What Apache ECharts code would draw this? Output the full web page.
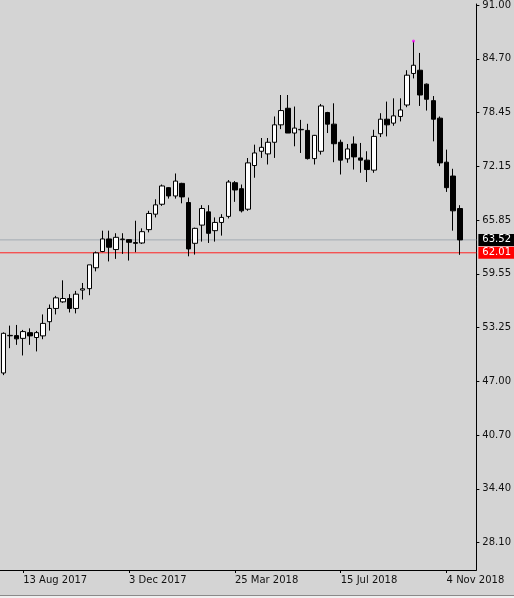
<!DOCTYPE html>
<html>
<head>
<meta charset="utf-8">
<script src="https://cdn.jsdelivr.net/npm/echarts@6/dist/echarts.min.js"></script>
<style>html,body{margin:0;padding:0;background:#d4d4d4;}#c{width:514px;height:598px;}</style>
</head>
<body>
<div id="c"></div>
<script>
// Weekly candles, first week 23 Jul 2017
const startDate = '2017-07-23';
const weekCount = 72; // 70 candles + 2 empty weeks at right
const opens  = [47.95,52.30,52.32,52.00,52.67,52.10,52.29,53.95,55.50,56.27,56.66,55.50,57.65,57.82,60.26,62.16,63.63,62.39,63.55,63.55,63.20,63.16,64.72,66.53,67.69,69.63,68.66,70.13,67.89,63.12,65.25,66.80,64.60,65.56,66.27,70.21,69.51,67.11,72.22,73.89,73.58,74.94,76.98,78.92,76.02,76.40,76.33,73.03,73.89,78.42,77.06,74.94,73.00,74.74,73.11,72.85,71.68,75.94,77.64,77.18,77.96,79.30,82.99,83.37,81.74,79.81,77.76,72.61,70.99,67.19];
const closes = [52.59,52.35,51.94,52.79,52.29,52.67,53.75,55.50,56.74,56.66,55.50,57.17,57.80,60.60,62.00,63.63,62.66,63.82,63.62,63.24,63.12,64.48,66.61,67.62,69.83,68.66,70.40,68.55,62.46,64.87,67.19,64.29,65.56,66.15,70.29,69.36,66.92,72.53,73.69,74.35,74.94,76.98,78.65,76.02,76.60,76.45,73.03,75.75,79.19,77.06,74.77,72.85,74.16,73.23,72.85,71.75,75.63,77.64,76.98,78.03,78.72,82.79,83.95,80.47,79.97,77.64,72.53,69.63,66.92,63.52];
const lows   = [47.70,50.85,51.24,50.00,51.24,50.47,51.90,52.91,54.80,56.16,55.03,54.92,56.54,57.05,59.84,62.08,61.00,61.30,61.88,61.10,62.08,63.04,64.40,66.15,67.50,68.35,68.35,67.80,61.60,61.80,63.32,63.16,63.32,64.02,66.03,67.97,66.73,66.92,70.79,73.11,72.34,73.11,76.48,76.02,74.47,73.69,72.92,72.34,73.50,76.02,72.61,71.17,72.54,71.75,71.37,70.29,71.37,75.55,75.63,76.87,77.38,79.04,82.41,79.19,78.65,75.05,72.15,69.13,64.60,61.77];
const highs  = [52.70,53.49,53.57,52.99,53.17,52.87,54.80,55.96,56.97,58.79,57.17,57.55,58.48,60.60,62.16,64.60,64.60,64.30,64.30,63.60,65.76,64.87,66.92,68.27,70.00,69.70,71.29,70.20,68.47,64.95,67.58,67.58,66.15,66.53,70.52,70.40,70.00,73.10,74.66,75.44,75.44,77.96,80.47,80.47,79.12,77.56,77.10,75.80,79.42,78.50,79.50,75.24,74.74,75.63,74.86,73.89,76.40,78.34,79.70,80.08,80.08,83.37,86.78,85.39,81.82,80.35,77.96,74.08,71.84,67.58];
const yTickLabels = [91.00,84.70,78.45,72.15,65.85,59.55,53.25,47.00,40.70,34.40,28.10];
const bidPrice = 63.52;
const redPrice = 62.01;
const xLabelStart = 3;   // 13 Aug 2017
const xLabelStep = 16;

const months = ['Jan','Feb','Mar','Apr','May','Jun','Jul','Aug','Sep','Oct','Nov','Dec'];
const categories = [];
{
  const d0 = new Date(startDate + 'T12:00:00Z');
  for (let i = 0; i < weekCount; i++) {
    const d = new Date(d0.getTime() + i * 7 * 86400000);
    categories.push(d.getUTCDate() + ' ' + months[d.getUTCMonth()] + ' ' + d.getUTCFullYear());
  }
}
const candleData = opens.map((o, i) => [o, closes[i], lows[i], highs[i]]);
let peakIdx = 0;
highs.forEach((h, i) => { if (h > highs[peakIdx]) peakIdx = i; });

const showX = (i) => i >= xLabelStart && (i - xLabelStart) % xLabelStep === 0;
const FONT = 'DejaVu Sans';

function priceLine(price, lineColor, boxColor) {
  return {
    type: 'line',
    xAxisIndex: 1,
    data: [[0, price], [1, price]],
    silent: true,
    symbol: 'none',
    showSymbol: false,
    color: lineColor,
    lineStyle: {color: lineColor, width: 1, type: 'solid'},
    emphasis: {disabled: true},
    endLabel: {show: true, distance: 2, formatter: price.toFixed(2),
      backgroundColor: boxColor, color: '#fff', padding: [1, 6, 1, 4], fontFamily: FONT, fontSize: 10},
    z: 1
  };
}

const chart = echarts.init(document.getElementById('c'), null, {renderer: 'canvas'});
chart.setOption({
  backgroundColor: '#d4d4d4',
  animation: false,
  grid: {left: -2, right: 36, top: 0, bottom: 28, containLabel: false},
  xAxis: [{
    type: 'category',
    data: categories,
    boundaryGap: true,
    axisLine: {onZero: false, lineStyle: {color: '#000', width: 1}},
    axisTick: {show: true, alignWithLabel: true, length: 3, interval: (i) => showX(i), lineStyle: {color: '#000'}},
    axisLabel: {interval: (i) => showX(i), align: 'left', margin: 5, color: '#111', fontFamily: FONT, fontSize: 10},
    splitLine: {show: false}
  }, {
    type: 'value', min: 0, max: 1, show: false, position: 'bottom',
    axisLine: {onZero: false}
  }],
  yAxis: {
    type: 'value',
    position: 'right',
    min: 24.9,
    max: 91.12,
    scale: true,
    axisLine: {show: true, onZero: false, lineStyle: {color: '#000', width: 1}},
    axisTick: {show: true, length: 3, lineStyle: {color: '#000'}, customValues: yTickLabels},
    axisLabel: {margin: 6, color: '#111', fontFamily: FONT, fontSize: 10, customValues: yTickLabels,
      formatter: (v) => Number(v).toFixed(2)},
    splitLine: {show: false}
  },
  series: [
    priceLine(bidPrice, '#a3aab2', '#000000'),
    priceLine(redPrice, '#ff2020', '#ff0000'),
    {
      type: 'candlestick',
      data: candleData,
      barWidth: 5,
      z: 3,
      itemStyle: {color: '#ffffff', color0: '#000000', borderColor: '#000000', borderColor0: '#000000', borderWidth: 1}
    },
    {
      type: 'scatter',
      data: [[categories[peakIdx], highs[peakIdx]]],
      symbolSize: 3,
      itemStyle: {color: '#ff00ff'},
      silent: true,
      z: 4
    }
  ],
  graphic: [
    {type: 'rect', left: 0, top: 595, shape: {width: 514, height: 3}, style: {fill: '#f0f0f0'}, silent: true},
    {type: 'line', shape: {x1: 0, y1: 595.5, x2: 514, y2: 595.5}, style: {stroke: '#8a8a8a', lineWidth: 1}, silent: true}
  ]
});
</script>
</body>
</html>
